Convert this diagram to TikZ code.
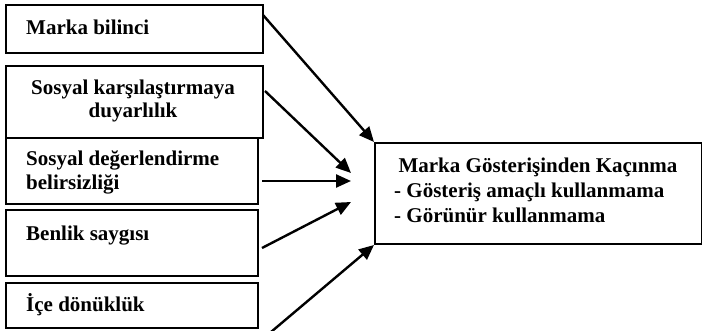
\documentclass[tikz,border=0pt]{standalone}
\usepackage{fontspec}
\setmainfont{Liberation Serif}
\usetikzlibrary{arrows.meta}
\begin{document}
\begin{tikzpicture}[x=1pt,y=-1pt,
  box/.style={draw=black,line width=2pt,inner sep=0pt,anchor=north west},
  txt/.style={inner sep=0pt,font=\fontsize{21}{25}\selectfont\bfseries},
  arr/.style={line width=2.4pt,-{Triangle[length=15pt,width=13pt]}}]
\useasboundingbox (0,0) rectangle (702,331);
% boxes
\node[box,minimum width=257pt,minimum height=48pt] (b1) at (5,4) {};
\node[box,minimum width=257pt,minimum height=72pt] (b2) at (5,65) {};
\node[box,minimum width=252pt,minimum height=66pt] (b3) at (5,137) {};
\node[box,minimum width=252pt,minimum height=66pt] (b4) at (5,209) {};
\node[box,minimum width=252pt,minimum height=45pt] (b5) at (5,282) {};
\node[box,minimum width=327pt,minimum height=101pt] (tg) at (374,142) {};
% texts
\node[txt,anchor=base west] (t1) at (26,35) {Marka bilinci};
\node[txt,anchor=base] (t2a) at (133,95) {Sosyal karşılaştırmaya};
\node[txt,anchor=base] (t2b) at (133,118) {duyarlılık};
\node[txt,anchor=base west] (t3a) at (26,166) {Sosyal değerlendirme};
\node[txt,anchor=base west] (t3b) at (26,190) {belirsizliği};
\node[txt,anchor=base west] (t4) at (26,241) {Benlik saygısı};
\node[txt,anchor=base west] (t5) at (26,312) {İçe dönüklük};
\node[txt,anchor=base] (g1) at (538,173) {Marka Gösterişinden Kaçınma};
\node[txt,anchor=base west] (g2) at (394,198) {- Gösteriş amaçlı kullanmama};
\node[txt,anchor=base west] (g3) at (394,223) {- Görünür kullanmama};
% connector ends
\coordinate (s1) at (263,15);
\coordinate (s2) at (265,91);
\coordinate (s3) at (262,181);
\coordinate (s4) at (262,248);
\coordinate (s5) at (271,332);
\coordinate (e2) at (351,173);
\coordinate (e3) at (351,181);
\coordinate (e4) at (351,202);
\draw[arr] (s1) -- (tg.north west);
\draw[arr] (s2) -- (e2);
\draw[arr] (s3) -- (e3);
\draw[arr] (s4) -- (e4);
\draw[arr] (s5) -- (tg.south west);
\end{tikzpicture}
\end{document}
